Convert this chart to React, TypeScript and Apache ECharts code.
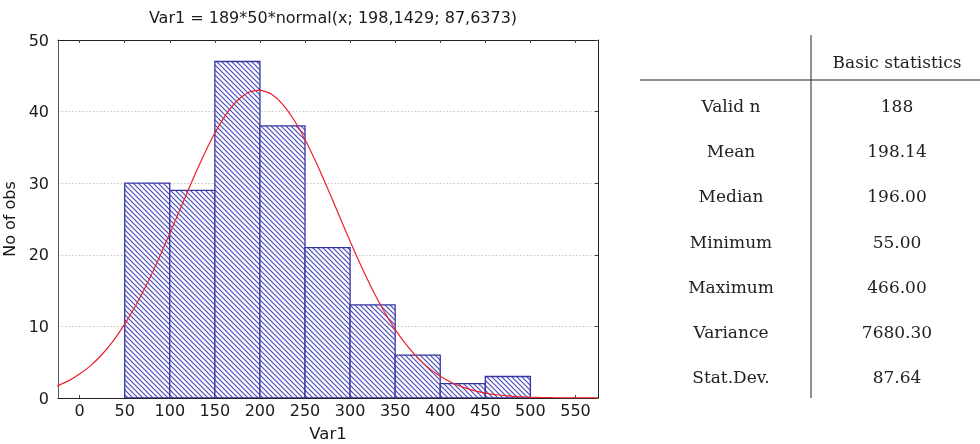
import React, { useEffect, useRef } from "react";
import * as echarts from "echarts";

const titleText = "Var1 = 189*50*normal(x; 198,1429; 87,6373)";
const binStarts = [50, 100, 150, 200, 250, 300, 350, 400, 450];
const binEnds = [100, 150, 200, 250, 300, 350, 400, 450, 500];
const counts = [30, 29, 47, 38, 21, 13, 6, 2, 3];
const xTicks = [0, 50, 100, 150, 200, 250, 300, 350, 400, 450, 500, 550];
const curveX = [
  -25, -12.5, 0, 12.5, 25, 37.5, 50, 62.5, 75, 87.5, 100, 112.5, 125, 137.5, 150, 162.5, 175, 187.5, 200,
  212.5, 225, 237.5, 250, 262.5, 275, 287.5, 300, 312.5, 325, 337.5, 350, 362.5, 375, 387.5, 400, 412.5,
  425, 437.5, 450, 462.5, 475, 487.5, 500, 512.5, 525, 537.5, 550, 562.5, 575,
];
const curveY = [
  1.68, 2.39, 3.34, 4.56, 6.11, 8.02, 10.31, 12.99, 16.03, 19.39, 22.98, 26.69, 30.37, 33.86, 37.0, 39.61,
  41.55, 42.7, 43.01, 42.45, 41.05, 38.89, 36.11, 32.85, 29.29, 25.58, 21.89, 18.36, 15.09, 12.15, 9.59,
  7.41, 5.61, 4.17, 3.03, 2.16, 1.51, 1.03, 0.69, 0.45, 0.29, 0.18, 0.11, 0.07, 0.04, 0.025, 0.014, 0.008,
  0.004,
];
const statNames = ["Valid n", "Mean", "Median", "Minimum", "Maximum", "Variance", "Stat.Dev."];
const statValues = ["188", "198.14", "196.00", "55.00", "466.00", "7680.30", "87.64"];
const statHeader = "Basic statistics";

function makeHatch(): any {
  const c = document.createElement("canvas");
  const s = 5;
  c.width = s;
  c.height = s;
  const ctx = c.getContext("2d")!;
  ctx.fillStyle = "#ffffff";
  ctx.fillRect(0, 0, s, s);
  ctx.strokeStyle = "#4b4bba";
  ctx.lineWidth = 1.2;
  for (const o of [-s, 0, s]) {
    ctx.beginPath();
    ctx.moveTo(o - 1, -1);
    ctx.lineTo(o + s + 1, s + 1);
    ctx.stroke();
  }
  return { image: c.toDataURL(), repeat: "repeat", imageWidth: s, imageHeight: s };
}

export default function App() {
  const ref = useRef<HTMLDivElement>(null);
  useEffect(() => {
    if (!ref.current) return;
    const chart = echarts.init(ref.current, null, { renderer: "svg" });
    const hatch = makeHatch();
    const sansFont = "DejaVu Sans, sans-serif";
    const serifFont = "DejaVu Serif, serif";
    const histData = binStarts.map((s, i) => [s, binEnds[i], counts[i]]);
    const curveData = curveX.map((x, i) => [x, curveY[i]]);

    const rowY0 = 106;
    const rowStep = 45.2;
    const tFont = `17px ${serifFont}`;
    const graphics: any[] = [
      { type: "line", shape: { x1: 811, y1: 35, x2: 811, y2: 398 }, style: { stroke: "#222", lineWidth: 1 } },
      { type: "line", shape: { x1: 640, y1: 80, x2: 980, y2: 80 }, style: { stroke: "#222", lineWidth: 1 } },
      {
        type: "text",
        x: 897,
        y: 62,
        style: { text: statHeader, font: tFont, fill: "#222", align: "center", verticalAlign: "middle" },
      },
    ];
    statNames.forEach((n, i) => {
      graphics.push({
        type: "text",
        x: 731,
        y: rowY0 + i * rowStep,
        style: { text: n, font: tFont, fill: "#222", align: "center", verticalAlign: "middle" },
      });
      graphics.push({
        type: "text",
        x: 897,
        y: rowY0 + i * rowStep,
        style: { text: statValues[i], font: tFont, fill: "#222", align: "center", verticalAlign: "middle" },
      });
    });

    const axisLineStyle = { color: "#222", width: 1 };
    chart.setOption({
      animation: false,
      title: {
        text: titleText,
        left: 328,
        top: 4,
        textAlign: "center",
        textStyle: { fontFamily: sansFont, fontSize: 16, fontWeight: "normal", color: "#1a1a1a" },
      },
      grid: { left: 58, right: 382, top: 40, bottom: 46, containLabel: false, outerBoundsMode: "none" },
      xAxis: [
        {
          type: "value",
          min: -24,
          max: 575,
          position: "bottom",
          name: "Var1",
          nameLocation: "middle",
          nameGap: 27,
          nameTextStyle: { fontFamily: sansFont, fontSize: 16.5, color: "#1a1a1a" },
          axisLine: { show: true, onZero: false, lineStyle: axisLineStyle },
          axisTick: { show: true, inside: true, length: 3, customValues: xTicks, lineStyle: { color: "#444" } },
          axisLabel: { customValues: xTicks, margin: 4, fontFamily: sansFont, fontSize: 16, color: "#1a1a1a" },
          splitLine: { show: false },
        },
        {
          type: "value",
          min: -24,
          max: 575,
          position: "top",
          axisLine: { show: true, onZero: false, lineStyle: axisLineStyle },
          axisTick: { show: true, inside: true, length: 3, customValues: xTicks, lineStyle: { color: "#444" } },
          axisLabel: { show: false },
          splitLine: { show: false },
        },
      ],
      yAxis: [
        {
          type: "value",
          min: 0,
          max: 50,
          interval: 10,
          position: "left",
          name: "No of obs",
          nameLocation: "middle",
          nameGap: 35,
          nameTextStyle: { fontFamily: sansFont, fontSize: 16, color: "#1a1a1a" },
          axisLine: { show: true, onZero: false, lineStyle: { color: "#555", width: 1 } },
          axisTick: { show: false },
          axisLabel: { margin: 9, fontFamily: sansFont, fontSize: 16, color: "#1a1a1a" },
          splitLine: { show: true, lineStyle: { type: [1.5, 2], color: "#c4c4c4", width: 1 } },
        },
        {
          type: "value",
          min: 0,
          max: 50,
          interval: 10,
          position: "right",
          axisLine: { show: true, onZero: false, lineStyle: axisLineStyle },
          axisTick: { show: true, inside: true, length: 3, lineStyle: { color: "#444" } },
          axisLabel: { show: false },
          splitLine: { show: false },
        },
      ],
      series: [
        {
          type: "custom",
          xAxisIndex: 0,
          yAxisIndex: 0,
          encode: { x: [0, 1], y: 2 },
          data: histData,
          clip: true,
          renderItem: (params: any, api: any) => {
            const p0 = api.coord([api.value(0), api.value(2)]);
            const p1 = api.coord([api.value(1), 0]);
            return {
              type: "rect",
              shape: { x: p0[0], y: p0[1], width: p1[0] - p0[0], height: p1[1] - p0[1] },
              style: { fill: hatch, stroke: "#3535a2", lineWidth: 1.3 },
            };
          },
        },
        {
          type: "line",
          xAxisIndex: 0,
          yAxisIndex: 0,
          data: curveData,
          smooth: 0.2,
          showSymbol: false,
          symbol: "none",
          clip: true,
          lineStyle: { color: "#ee2028", width: 1.2 },
          z: 5,
        },
      ],
      graphic: graphics,
    });
    return () => chart.dispose();
  }, []);
  return <div ref={ref} style={{ position: "fixed", left: 0, top: 0, width: 980, height: 444 }} />;
}
